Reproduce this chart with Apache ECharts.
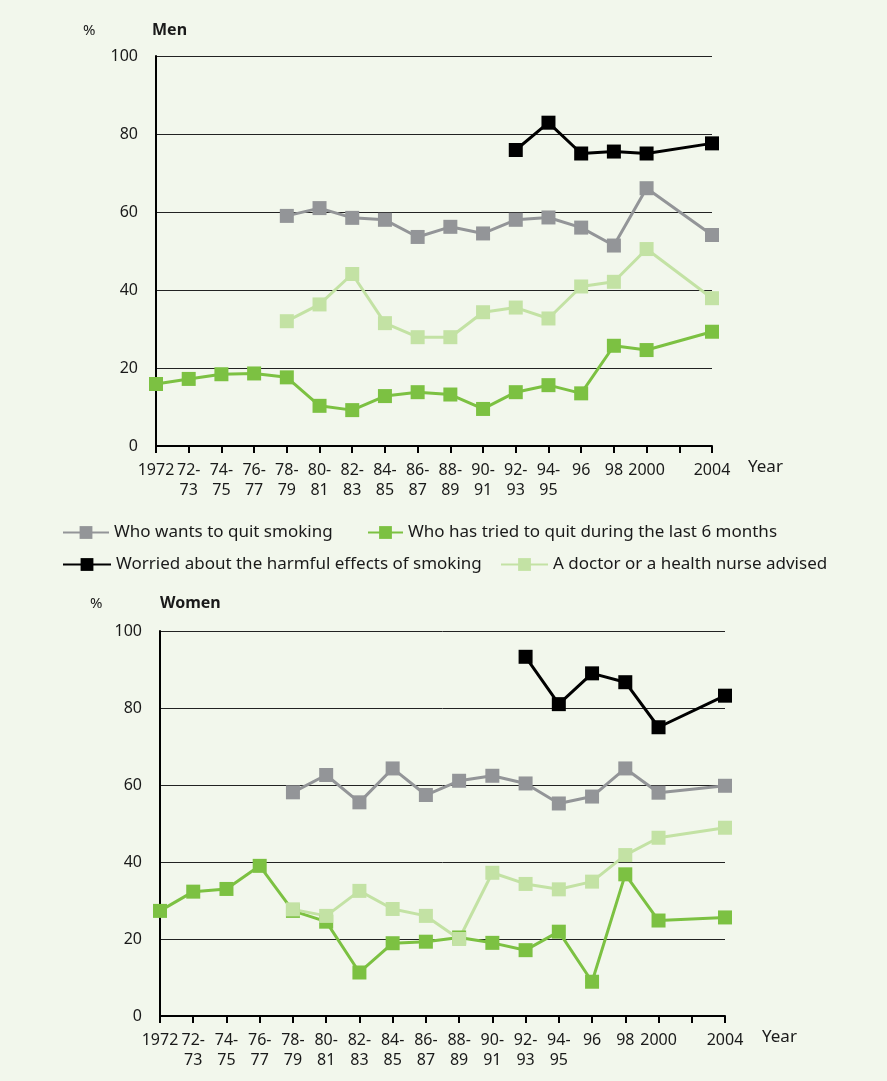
<!DOCTYPE html>
<html>
<head>
<meta charset="utf-8">
<title>Smoking – Men and Women</title>
<script src="https://cdn.jsdelivr.net/npm/echarts@6/dist/echarts.min.js"></script>
<style>
  html, body { margin: 0; padding: 0; background: #fff; }
  #chart { width: 887px; height: 1081px; }
</style>
</head>
<body>
<div id="chart"></div>
<script>
// x categories (the blank one is 2002, no survey that year)
const years = ['1972', '72-\n73', '74-\n75', '76-\n77', '78-\n79', '80-\n81', '82-\n83', '84-\n85',
  '86-\n87', '88-\n89', '90-\n91', '92-\n93', '94-\n95', '96', '98', '2000', '', '2004'];
const yTicks = [0, 20, 40, 60, 80, 100];

// Men
const menWants = [null, null, null, null, 59, 61, 58.5, 58, 53.6, 56.2, 54.5, 58, 58.6, 56, 51.4, 66.1, null, 54.1];
const menTried = [15.9, 17.2, 18.4, 18.6, 17.6, 10.3, 9.2, 12.8, 13.8, 13.2, 9.5, 13.8, 15.6, 13.5, 25.7, 24.6, null, 29.3];
const menWorried = [null, null, null, null, null, null, null, null, null, null, null, 75.9, 82.9, 75, 75.5, 75, null, 77.6];
const menDoctor = [null, null, null, null, 32, 36.3, 44.1, 31.5, 27.9, 27.9, 34.3, 35.5, 32.7, 40.9, 42.1, 50.5, null, 37.9];

// Women
const womenWants = [null, null, null, null, 58.1, 62.6, 55.5, 64.3, 57.4, 61.1, 62.4, 60.4, 55.2, 57, 64.3, 58, null, 59.8];
const womenTried = [27.3, 32.3, 33, 39, 27.3, 24.5, 11.3, 18.9, 19.3, 20.4, 19, 17.1, 21.9, 8.9, 36.8, 24.8, null, 25.6];
const womenWorried = [null, null, null, null, null, null, null, null, null, null, null, 93.3, 81, 89, 86.7, 75, null, 83.2];
const womenDoctor = [null, null, null, null, 27.7, 26, 32.5, 27.8, 26, 20, 37.2, 34.3, 32.9, 34.9, 41.8, 46.3, null, 48.9];

const names = ['Who wants to quit smoking', 'Who has tried to quit during the last 6 months',
  'Worried about the harmful effects of smoking', 'A doctor or a health nurse advised'];
const colors = ['#939598', '#7cc142', '#000000', '#c3e2a4'];

const FONT = 'Noto Sans';
const TXT = '#1a1a1a';

const chart = echarts.init(document.getElementById('chart'));

// one x axis per panel
function makeX(gridIndex) {
  return {
    type: 'category',
    gridIndex: gridIndex,
    data: years,
    boundaryGap: false,
    axisLine: { lineStyle: { color: '#000', width: 2 } },
    axisTick: { show: true, interval: 0, length: 7, lineStyle: { color: '#000', width: 2 } },
    axisLabel: { interval: 0, color: TXT, fontFamily: FONT, fontSize: 16, lineHeight: 20, margin: 14 },
    splitLine: { show: false }
  };
}

function makeY(gridIndex) {
  return {
    type: 'value',
    gridIndex: gridIndex,
    min: yTicks[0],
    max: yTicks[yTicks.length - 1],
    interval: 20,
    axisLine: { show: true, lineStyle: { color: '#000', width: 2 } },
    axisTick: { show: false },
    axisLabel: { color: TXT, fontFamily: FONT, fontSize: 16, margin: 18 },
    splitLine: { show: true, lineStyle: { color: '#222', width: 1 } }
  };
}

function makeLine(i, data, axisIndex) {
  return {
    name: names[i],
    type: 'line',
    xAxisIndex: axisIndex,
    yAxisIndex: axisIndex,
    data: data,
    connectNulls: true,
    symbol: 'rect',
    symbolSize: 14,
    showAllSymbol: true,
    color: colors[i],
    lineStyle: { color: colors[i], width: 3 },
    itemStyle: { color: colors[i] },
    emphasis: { disabled: true },
    animation: false
  };
}

// legend placed item by item, like the printed key
function makeLegend(i, left, top, iconW) {
  return {
    data: [names[i]],
    left: left,
    top: top,
    itemWidth: iconW,
    itemHeight: 16,
    padding: 0,
    selectedMode: false,
    textStyle: { color: TXT, fontFamily: FONT, fontSize: 17 }
  };
}

function label(text, x, y, size, bold) {
  return {
    type: 'text',
    left: x,
    top: y,
    style: { text: text, fill: TXT, font: (bold ? 'bold ' : '') + size + 'px "' + FONT + '"' }
  };
}

const option = {
  backgroundColor: '#f2f7ec',
  animation: false,
  grid: [
    { left: 156, right: 175, top: 56, height: 390 },
    { left: 160, right: 162, top: 631, height: 385 }
  ],
  xAxis: [makeX(0), makeX(1)],
  yAxis: [makeY(0), makeY(1)],
  legend: [
    makeLegend(0, 62, 524, 46),
    makeLegend(1, 367, 524, 35),
    makeLegend(2, 62, 556, 48),
    makeLegend(3, 500, 556, 47)
  ],
  graphic: [
    label('%', 83, 23, 15, false),
    label('Men', 152, 22, 16, true),
    label('Year', 748, 459, 17, false),
    label('%', 90, 596, 15, false),
    label('Women', 160, 595, 16, true),
    label('Year', 762, 1029, 17, false)
  ],
  series: [
    makeLine(0, menWants, 0),
    makeLine(1, menTried, 0),
    makeLine(2, menWorried, 0),
    makeLine(3, menDoctor, 0),
    makeLine(0, womenWants, 1),
    makeLine(1, womenTried, 1),
    makeLine(2, womenWorried, 1),
    makeLine(3, womenDoctor, 1)
  ]
};

chart.setOption(option);
</script>
</body>
</html>
